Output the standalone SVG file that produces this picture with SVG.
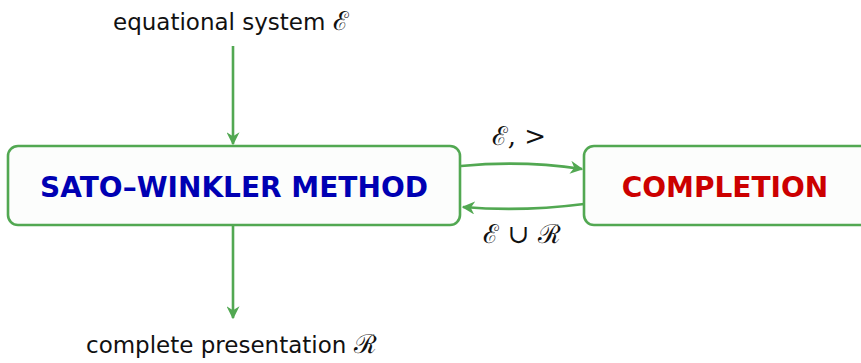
<svg xmlns="http://www.w3.org/2000/svg" width="861" height="363" viewBox="0 0 861 363">
  <style>
    .box { fill: #fcfdfc; stroke: #52a852; stroke-width: 2.6; }
    .edge { fill: none; stroke: #52a852; stroke-width: 2.6; }
    .txt { font-family: "DejaVu Sans", "Liberation Sans", sans-serif; font-size: 23px; fill: #111; }
    .math { font-family: "DejaVu Serif", "Liberation Serif", serif; font-size: 26px; fill: #111; }
    .head { font-family: "DejaVu Sans", "Liberation Sans", sans-serif; font-size: 28px; font-weight: bold; }
  </style>
  <defs>
    <marker id="arrow" viewBox="0 0 10 10" refX="9" refY="5" markerWidth="5" markerHeight="5" orient="auto" markerUnits="strokeWidth">
      <path d="M0,0 L10,5 L0,10 L3,5 Z" fill="#52a852"/>
    </marker>
  </defs>

  <g id="connectors">
    <path class="edge" d="M233,46 L233,144" marker-end="url(#arrow)"/>
    <path class="edge" d="M233,226 L233,318" marker-end="url(#arrow)"/>
    <path class="edge" d="M461,166 Q522,160 582,169" marker-end="url(#arrow)"/>
    <path class="edge" d="M584,204 Q522,212 463,207" marker-end="url(#arrow)"/>
  </g>

  <g id="input">
    <text class="txt" x="113" y="30">equational system <tspan class="math">ℰ</tspan></text>
  </g>

  <g id="sato-winkler">
    <rect class="box" x="8" y="146" width="452" height="79" rx="10"/>
    <text class="head" x="234" y="197" text-anchor="middle" fill="#0000b3">SATO–WINKLER METHOD</text>
  </g>

  <g id="completion">
    <rect class="box" x="584" y="146" width="290" height="79" rx="10"/>
    <text class="head" x="725" y="197" text-anchor="middle" fill="#cc0000">COMPLETION</text>
  </g>

  <g id="output">
    <text class="txt" x="86" y="353">complete presentation <tspan class="math">ℛ</tspan></text>
  </g>

  <g id="edge-labels">
    <text class="math" x="519" y="145" text-anchor="middle">ℰ, &gt;</text>
    <text class="math" x="522" y="243" text-anchor="middle">ℰ ∪ ℛ</text>
  </g>
</svg>
